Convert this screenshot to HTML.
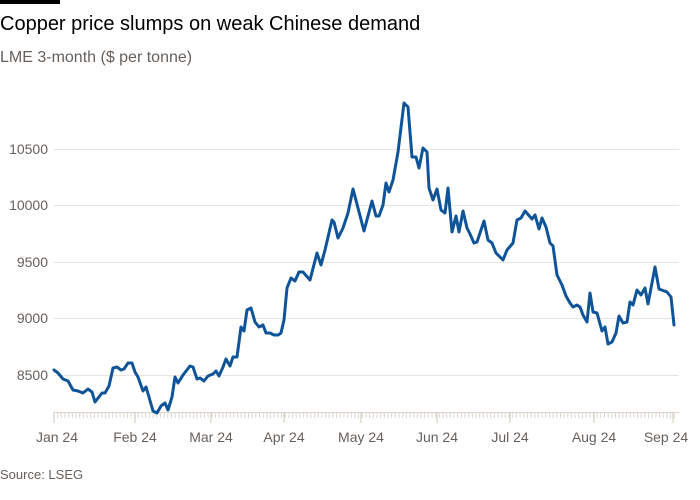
<!DOCTYPE html>
<html><head><meta charset="utf-8"><style>
body{margin:0;background:#fff;width:700px;height:500px;overflow:hidden;font-family:"Liberation Sans",sans-serif}
</style></head><body>
<svg width="700" height="500" xmlns="http://www.w3.org/2000/svg" style="position:absolute;left:0;top:0">
<rect x="0" y="0" width="60" height="4" fill="#000"/>
<text x="0" y="30" font-size="20" fill="#000" font-family="Liberation Sans, sans-serif">Copper price slumps on weak Chinese demand</text>
<text x="0" y="62" font-size="16" fill="#66605c" font-family="Liberation Sans, sans-serif">LME 3-month ($ per tonne)</text>
<g stroke="#e9e4df" stroke-width="1">
<line x1="54" x2="679" y1="149.5" y2="149.5"/>
<line x1="54" x2="679" y1="205.5" y2="205.5"/>
<line x1="54" x2="679" y1="262.5" y2="262.5"/>
<line x1="54" x2="679" y1="318.5" y2="318.5"/>
<line x1="54" x2="679" y1="375.5" y2="375.5"/>
<line x1="54" x2="679" y1="412.5" y2="412.5" stroke="#ddd6cf"/>
</g>
<g font-size="14" fill="#66605c" text-anchor="end" font-family="Liberation Sans, sans-serif">
<text x="48" y="154">10500</text><text x="48" y="210">10000</text><text x="48" y="267">9500</text><text x="48" y="323">9000</text><text x="48" y="380">8500</text>
</g>
<g id="ticks" stroke="#ddd6cf" stroke-width="1"></g>
<g stroke="#ccc5bd" stroke-width="1">
<line x1="54" x2="54" y1="412" y2="423"/><line x1="135" x2="135" y1="412" y2="423"/><line x1="211" x2="211" y1="412" y2="423"/><line x1="284" x2="284" y1="412" y2="423"/><line x1="361" x2="361" y1="412" y2="423"/><line x1="437" x2="437" y1="412" y2="423"/><line x1="510" x2="510" y1="412" y2="423"/><line x1="594" x2="594" y1="412" y2="423"/><line x1="673" x2="673" y1="412" y2="423"/>
</g>
<g font-size="14" fill="#66605c" text-anchor="middle" font-family="Liberation Sans, sans-serif">
<text x="57" y="442">Jan 24</text><text x="135" y="442">Feb 24</text><text x="211" y="442">Mar 24</text><text x="284" y="442">Apr 24</text><text x="361" y="442">May 24</text><text x="437" y="442">Jun 24</text><text x="510" y="442">Jul 24</text><text x="594" y="442">Aug 24</text><text x="666" y="442">Sep 24</text>
</g>
<text x="0" y="479" font-size="13" fill="#66605c" font-family="Liberation Sans, sans-serif">Source: LSEG</text>
<polyline fill="none" stroke="#0f5499" stroke-width="3" stroke-linejoin="round" stroke-linecap="round" points="
54,370 58,373 63,379 68,381 73,390 78,391 83,393 88,389 92,392 95,402 102,393 105,393 109,386 113,368 117,367 121,370 124,369 128,363 132,363 135,372 138,377 143,391 146,387 149,397 153,411 157,413 161,406 165,403 168,410 172,397 175,377 178,383 183,375 190,366 193,367 197,379 200,378 204,381 208,376 213,374 216,371 219,376 223,367 226,359 230,366 233,357 237,357 241,327 244,331 247,310 251,308 255,322 259,327 263,325 266,333 270,333 274,335 278,335 281,333 284,320 287,288 291,278 295,281 299,272 303,272 310,280 317,253 321,265 325,250 332,220 334,222 338,238 343,228 348,213 353,189 358,208 364,231 372,201 376,216 379,216 383,205 386,183 389,192 393,180 398,152 404,103 408,107 412,157 416,157 419,168 423,148 427,152 429,188 433,200 437,189 441,210 445,213 448,188 452,232 456,216 459,232 463,211 467,228 470,234 474,243 477,242 484,221 488,240 492,243 496,253 503,260 507,250 513,243 517,220 521,218 525,211 532,219 535,215 539,229 542,218 546,227 550,243 553,246 557,275 562,285 566,296 570,303 573,307 577,305 580,307 583,315 587,322 590,293 593,312 597,313 602,331 605,327 608,344 612,342 616,333 619,316 623,323 627,322 630,302 633,305 637,290 641,295 645,288 648,304 655,267 659,289 667,292 671,297 674,325"/>
</svg>
<script>
var g=document.getElementById('ticks'),s='';
for(var x=54;x<=677;x+=3.67){s+='<line x1="'+x.toFixed(1)+'" x2="'+x.toFixed(1)+'" y1="412" y2="418"/>';}
g.innerHTML=s;
</script>
</body></html>
